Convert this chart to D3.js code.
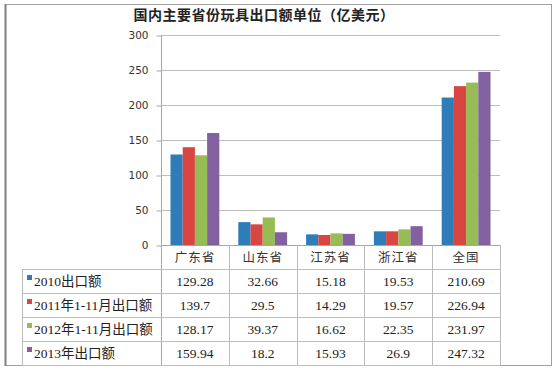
<!DOCTYPE html>
<html>
<head>
<meta charset="utf-8">
<script src="https://cdn.jsdelivr.net/npm/d3@7"></script>
<style>
  body { margin: 0; background: #fff; }
  svg { display: block; }
</style>
</head>
<body>
<div id="chart"></div>
<script>
// data
var categories = ['广东省', '山东省', '江苏省', '浙江省', '全国'];
var seriesNames = ['2010出口额', '2011年1-11月出口额', '2012年1-11月出口额', '2013年出口额'];
var values2010 = [129.28, 32.66, 15.18, 19.53, 210.69];
var values2011 = [139.7, 29.5, 14.29, 19.57, 226.94];
var values2012 = [128.17, 39.37, 16.62, 22.35, 231.97];
var values2013 = [159.94, 18.2, 15.93, 26.9, 247.32];
var yTicks = [0, 50, 100, 150, 200, 250, 300];
var colors = ['#2E7DB9', '#D94541', '#97BC55', '#8361A0'];
var title = '国内主要省份玩具出口额单位（亿美元）';

var series = [values2010, values2011, values2012, values2013];

var W = 558, H = 371;
// note: "top" is taken by window.top, so use plot* names
var plotLeft = 161, plotRight = 500, plotTop = 35, plotBase = 245;
var tableLeft = 22, rowH = 24, headH = 24;

var svg = d3.select('#chart').append('svg').attr('width', W).attr('height', H);

// outer frame, left edge a bit heavier like the original
svg.append('rect')
  .attr('x', 5.5).attr('y', 4.5).attr('width', 546).attr('height', 361)
  .attr('fill', '#fff').attr('stroke', '#a0a0a0');
svg.append('line')
  .attr('x1', 5.5).attr('x2', 5.5).attr('y1', 4).attr('y2', 366)
  .attr('stroke', '#808080').attr('stroke-width', 2);

svg.append('text')
  .attr('x', 264).attr('y', 20)
  .attr('text-anchor', 'middle')
  .style('font-family', '"Noto Sans CJK SC", sans-serif')
  .style('font-weight', 'bold')
  .style('font-size', '14px')
  .style('letter-spacing', '0.5px')
  .attr('fill', '#222')
  .text(title);

var y = d3.scaleLinear().domain([0, 300]).range([plotBase, plotTop]);
var x = d3.scaleBand().domain(categories).range([plotLeft, plotRight]).paddingInner(0.28).paddingOuter(0.14);
var col = d3.scaleBand().domain(categories).range([plotLeft, plotRight]);
var xs = d3.scaleBand().domain(d3.range(series.length)).range([0, x.bandwidth()]);

// grid lines
svg.append('g').selectAll('line')
  .data(yTicks.filter(function (d) { return d > 0; }))
  .enter().append('line')
    .attr('x1', plotLeft).attr('x2', plotRight)
    .attr('y1', function (d) { return Math.round(y(d)) + 0.5; })
    .attr('y2', function (d) { return Math.round(y(d)) + 0.5; })
    .attr('stroke', '#bdbdbd');

// y axis
var yAxis = svg.append('g')
  .attr('transform', 'translate(' + (plotLeft + 0.5) + ',0.5)')
  .call(d3.axisLeft(y).tickValues(yTicks).tickSize(5).tickPadding(8));
yAxis.select('.domain').attr('stroke', '#a6a6a6').attr('d', 'M0,' + plotTop + 'V' + (plotBase + headH + 4 * rowH));
yAxis.selectAll('.tick line').attr('stroke', '#a6a6a6');
yAxis.selectAll('.tick text')
  .style('font-family', '"DejaVu Sans", Verdana, sans-serif')
  .style('font-size', '10.5px')
  .attr('fill', '#333');

// bars
series.forEach(function (vals, si) {
  svg.append('g').selectAll('rect')
    .data(vals)
    .enter().append('rect')
      .attr('x', function (d, i) { return x(categories[i]) + xs(si); })
      .attr('y', function (d) { return y(d); })
      .attr('width', xs.bandwidth())
      .attr('height', function (d) { return plotBase - y(d); })
      .attr('fill', colors[si]);
});

// data table
var tbl = svg.append('g').attr('stroke', '#bdbdbd').attr('shape-rendering', 'crispEdges');
tbl.append('line').attr('x1', plotLeft).attr('x2', plotRight).attr('y1', plotBase + 0.5).attr('y2', plotBase + 0.5).attr('stroke', '#a6a6a6');
d3.range(series.length + 1).forEach(function (r) {
  var yy = plotBase + headH + r * rowH + 0.5;
  tbl.append('line').attr('x1', tableLeft).attr('x2', plotRight).attr('y1', yy).attr('y2', yy);
});
tbl.append('line').attr('x1', tableLeft + 0.5).attr('x2', tableLeft + 0.5)
  .attr('y1', plotBase + headH).attr('y2', plotBase + headH + series.length * rowH);
categories.forEach(function (c) {
  var xx = Math.round(col(c) + col.bandwidth()) + 0.5;
  tbl.append('line').attr('x1', xx).attr('x2', xx)
    .attr('y1', plotBase).attr('y2', plotBase + headH + series.length * rowH);
});

svg.append('g').selectAll('text')
  .data(categories)
  .enter().append('text')
    .attr('x', function (d) { return col(d) + col.bandwidth() / 2; })
    .attr('y', plotBase + 17)
    .attr('text-anchor', 'middle')
    .style('font-family', '"Noto Sans CJK SC", sans-serif')
    .style('font-size', '12.5px')
    .style('letter-spacing', '1px')
    .attr('fill', '#333')
    .text(function (d) { return d; });

series.forEach(function (vals, si) {
  var rowTop = plotBase + headH + si * rowH;
  svg.append('rect')
    .attr('x', 27).attr('y', rowTop + 6).attr('width', 5).attr('height', 5)
    .attr('fill', colors[si]);
  svg.append('text')
    .attr('x', 34).attr('y', rowTop + 17)
    .style('font-family', '"Liberation Serif", "Noto Sans CJK SC", serif')
    .style('font-size', '13.5px')
    .attr('fill', '#222')
    .text(seriesNames[si]);
  svg.append('g').selectAll('text')
    .data(vals)
    .enter().append('text')
      .attr('x', function (d, i) { return col(categories[i]) + col.bandwidth() / 2; })
      .attr('y', rowTop + 17)
      .attr('text-anchor', 'middle')
      .style('font-family', '"Liberation Serif", serif')
      .style('font-size', '13.5px')
      .attr('fill', '#222')
      .text(function (d) { return d; });
});
</script>
</body>
</html>
